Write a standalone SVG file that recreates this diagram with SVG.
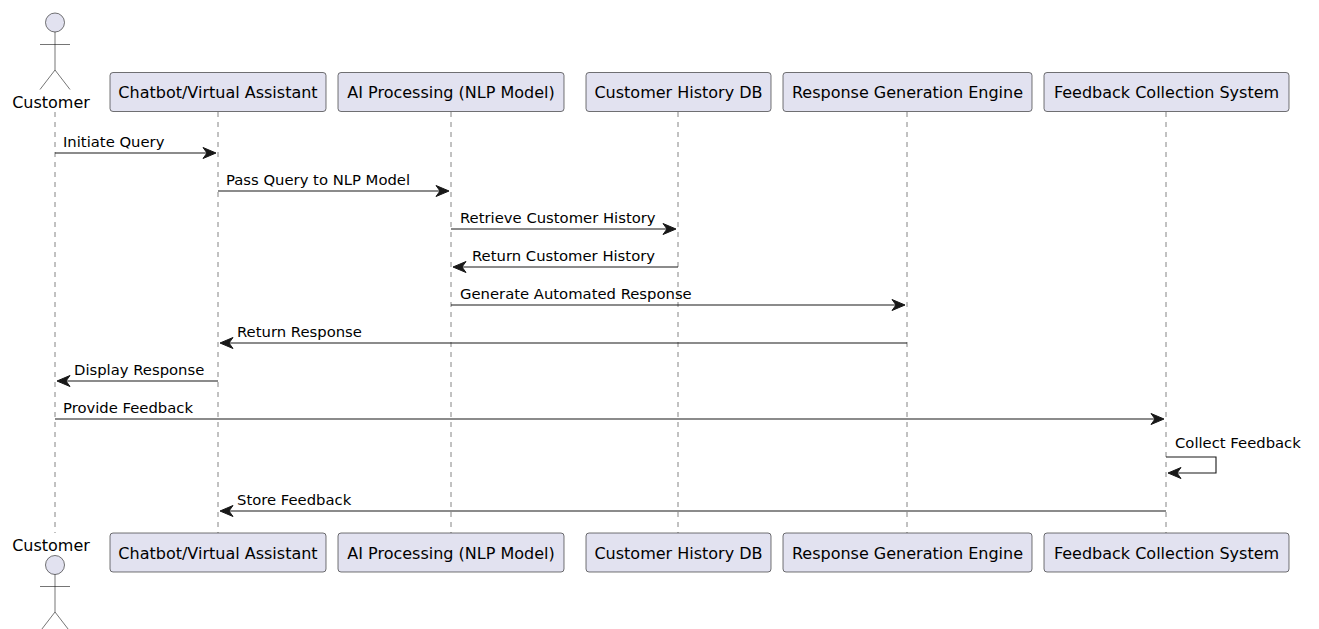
<svg xmlns="http://www.w3.org/2000/svg" width="1319" height="629" viewBox="0 0 1319 629">
<style>
.bg{fill:#FFFFFF}
.box{fill:#E2E2F0;stroke:#181818;stroke-width:0.6}
.pt{font-family:"DejaVu Sans",sans-serif;font-size:16px;fill:#000;text-anchor:middle}
.mt{font-family:"DejaVu Sans",sans-serif;font-size:14.8px;fill:#000}
.life{stroke:#777;stroke-width:0.9;stroke-dasharray:5,5}
.msg{stroke:#181818;stroke-width:1.1;fill:none}
.act{fill:#E2E2F0;stroke:#181818;stroke-width:0.6}
.actl{stroke:#181818;stroke-width:0.6;fill:none}
.ah{fill:#181818;stroke:#181818;stroke-width:1}
</style>
<rect class="bg" x="0" y="0" width="1319" height="629"/>
<g id="lifelines">
<line class="life" x1="55" y1="112" x2="55" y2="533"/>
<line class="life" x1="218" y1="112" x2="218" y2="533"/>
<line class="life" x1="451" y1="112" x2="451" y2="533"/>
<line class="life" x1="678" y1="112" x2="678" y2="533"/>
<line class="life" x1="907" y1="112" x2="907" y2="533"/>
<line class="life" x1="1166" y1="112" x2="1166" y2="533"/>
</g>
<g id="customer">
<circle class="act" cx="55" cy="22.5" r="9.5"/>
<line class="actl" x1="55" y1="32" x2="55" y2="70"/>
<line class="actl" x1="40" y1="44.5" x2="70" y2="44.5"/>
<polyline class="actl" points="40,89.5 55,70 70,89.5"/>
<text class="pt" x="51" y="108">Customer</text>
<text class="pt" x="51" y="551">Customer</text>
<circle class="act" cx="55" cy="565" r="9.5"/>
<line class="actl" x1="55" y1="574.5" x2="55" y2="612"/>
<line class="actl" x1="40" y1="586.5" x2="70" y2="586.5"/>
<polyline class="actl" points="40,631.5 55,612 70,631.5"/>
</g>
<g id="chatbot">
<rect class="box" x="110" y="72.5" width="216" height="39" rx="3"/>
<text class="pt" x="218" y="98">Chatbot/Virtual Assistant</text>
<rect class="box" x="110" y="533" width="216" height="39" rx="3"/>
<text class="pt" x="218" y="558.5">Chatbot/Virtual Assistant</text>
</g>
<g id="ai">
<rect class="box" x="338" y="72.5" width="226" height="39" rx="3"/>
<text class="pt" x="451" y="98">AI Processing (NLP Model)</text>
<rect class="box" x="338" y="533" width="226" height="39" rx="3"/>
<text class="pt" x="451" y="558.5">AI Processing (NLP Model)</text>
</g>
<g id="history">
<rect class="box" x="586" y="72.5" width="185" height="39" rx="3"/>
<text class="pt" x="678.5" y="98">Customer History DB</text>
<rect class="box" x="586" y="533" width="185" height="39" rx="3"/>
<text class="pt" x="678.5" y="558.5">Customer History DB</text>
</g>
<g id="response">
<rect class="box" x="783" y="72.5" width="249" height="39" rx="3"/>
<text class="pt" x="907.5" y="98">Response Generation Engine</text>
<rect class="box" x="783" y="533" width="249" height="39" rx="3"/>
<text class="pt" x="907.5" y="558.5">Response Generation Engine</text>
</g>
<g id="feedback">
<rect class="box" x="1044" y="72.5" width="245" height="39" rx="3"/>
<text class="pt" x="1166.5" y="98">Feedback Collection System</text>
<rect class="box" x="1044" y="533" width="245" height="39" rx="3"/>
<text class="pt" x="1166.5" y="558.5">Feedback Collection System</text>
</g>
<g id="connectors">
<line class="msg" x1="55" y1="153" x2="212" y2="153"/>
<polygon class="ah" points="216,153 203,147.5 207,153 203,158.5"/>
<text class="mt" x="63" y="147">Initiate Query</text>

<line class="msg" x1="218" y1="191" x2="445" y2="191"/>
<polygon class="ah" points="449,191 436,185.5 440,191 436,196.5"/>
<text class="mt" x="226" y="185">Pass Query to NLP Model</text>

<line class="msg" x1="451" y1="229" x2="672" y2="229"/>
<polygon class="ah" points="676,229 663,223.5 667,229 663,234.5"/>
<text class="mt" x="460" y="223">Retrieve Customer History</text>

<line class="msg" x1="457" y1="267" x2="678" y2="267"/>
<polygon class="ah" points="453,267 466,261.5 462,267 466,272.5"/>
<text class="mt" x="472" y="261">Return Customer History</text>

<line class="msg" x1="451" y1="305" x2="901" y2="305"/>
<polygon class="ah" points="905,305 892,299.5 896,305 892,310.5"/>
<text class="mt" x="460" y="299">Generate Automated Response</text>

<line class="msg" x1="224" y1="343" x2="907" y2="343"/>
<polygon class="ah" points="220,343 233,337.5 229,343 233,348.5"/>
<text class="mt" x="237" y="337">Return Response</text>

<line class="msg" x1="61" y1="381" x2="218" y2="381"/>
<polygon class="ah" points="57,381 70,375.5 66,381 70,386.5"/>
<text class="mt" x="74" y="375">Display Response</text>

<line class="msg" x1="55" y1="419" x2="1160" y2="419"/>
<polygon class="ah" points="1164,419 1151,413.5 1155,419 1151,424.5"/>
<text class="mt" x="63" y="413">Provide Feedback</text>

<polyline class="msg" points="1166,457 1216,457 1216,473 1172,473"/>
<polygon class="ah" points="1168,473 1181,467.5 1177,473 1181,478.5"/>
<text class="mt" x="1175" y="448">Collect Feedback</text>

<line class="msg" x1="224" y1="511" x2="1166" y2="511"/>
<polygon class="ah" points="220,511 233,505.5 229,511 233,516.5"/>
<text class="mt" x="237" y="505">Store Feedback</text>
</g>
</svg>
